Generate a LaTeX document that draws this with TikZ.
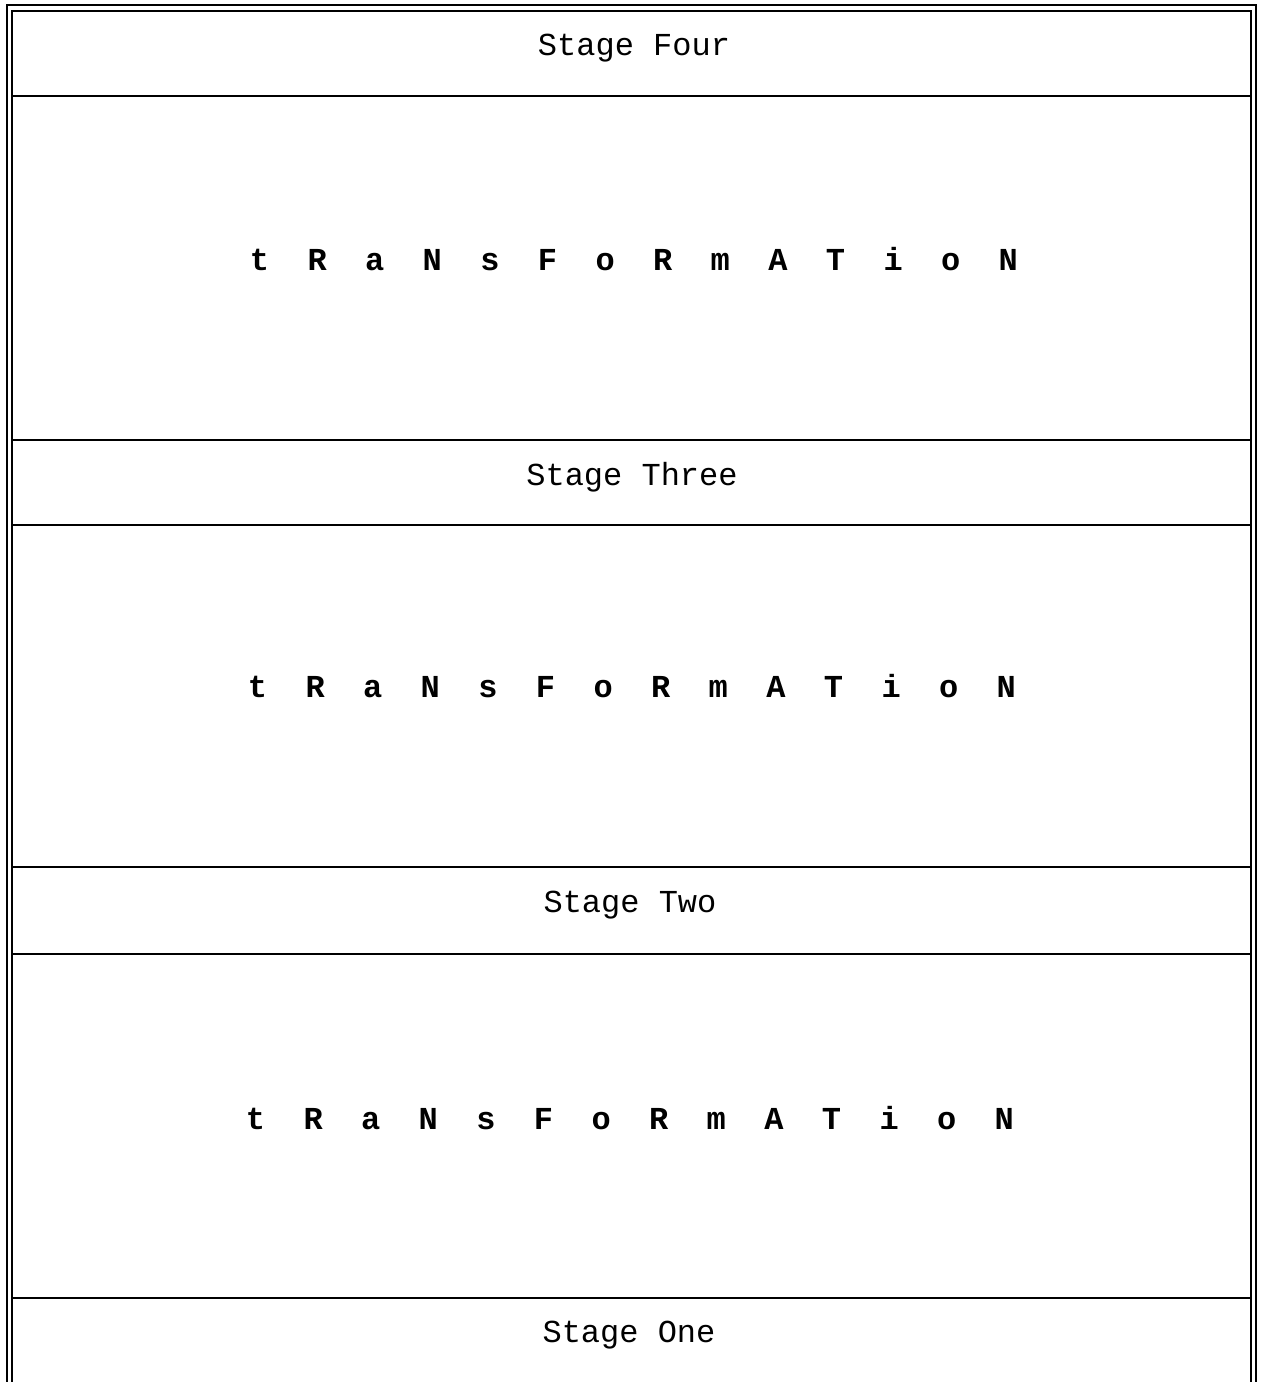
\documentclass[tikz,border=0pt]{standalone}
\usepackage{fontspec}
\setmainfont{Liberation Mono}
\begin{document}
\begin{tikzpicture}[x=1pt,y=-1pt,
  frame/.style={line width=2.4pt,black},
  divider/.style={line width=2.2pt,black},
  stagelabel/.style={font=\fontsize{32}{36}\selectfont,inner sep=0pt,anchor=center},
  transword/.style={font=\fontsize{32}{36}\selectfont\bfseries,inner sep=0pt,anchor=center}]
\path[use as bounding box,fill=white] (0,0) rectangle (1265,1382);
% double frame
\draw[frame] (7,1382) -- (7,5) -- (1256,5) -- (1256,1382);
\draw[frame] (12,1382) -- (12,11) -- (1251,11) -- (1251,1382);
% dividers
\foreach \yy in {96,440,525,867,954,1298}{
  \draw[divider] (12,\yy) -- (1251,\yy);
}
\newcommand{\gapx}{\hspace{1.2em}}
\newcommand{\tword}{t\gapx R\gapx a\gapx N\gapx s\gapx F\gapx o\gapx R\gapx m\gapx A\gapx T\gapx i\gapx o\gapx N}
\node[stagelabel] (s4) at (634,48) {Stage Four};
\node[transword] (t4) at (634,259) {\tword};
\node[stagelabel] (s3) at (632,477) {Stage Three};
\node[transword] (t3) at (632,686) {\tword};
\node[stagelabel] (s2) at (630,905) {Stage Two};
\node[transword] (t2) at (630,1118) {\tword};
\node[stagelabel] (s1) at (629,1335) {Stage One};
\end{tikzpicture}
\end{document}
